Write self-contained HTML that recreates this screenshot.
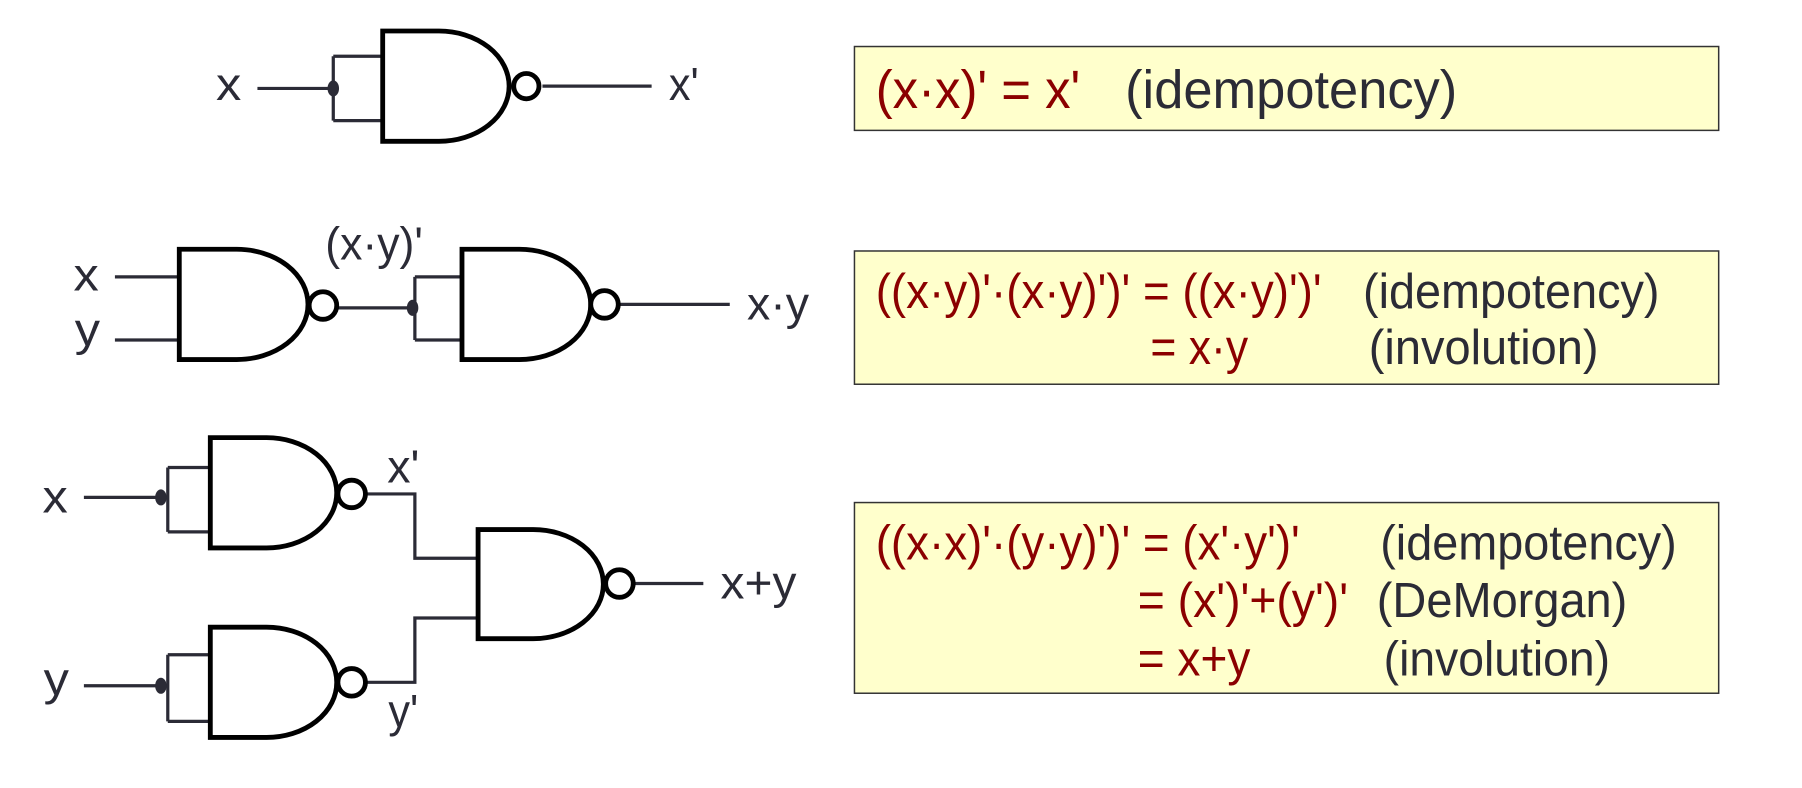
<!DOCTYPE html>
<html><head><meta charset="utf-8"><style>
html,body{margin:0;padding:0;background:#fff;width:1802px;height:788px;overflow:hidden}
svg{display:block}
text{font-family:"Liberation Sans",Arial,sans-serif}
.g{fill:#fff;stroke:#000;stroke-width:4.2}
.w{fill:none;stroke:#2b2b36;stroke-width:2.8}
.lbl{fill:#2b2b36;font-size:40px}
.r{fill:#8b0000}
.k{fill:#2b2b36}
</style></head><body>
<svg width="1802" height="788" viewBox="0 0 1568 686" preserveAspectRatio="none">
<g>
 <path class="w" d="M224 77 H290 M290 49 V105 M290 49 H333 M290 105 H333 M472 75 H567"/>
 <ellipse cx="290" cy="77" rx="5" ry="7" fill="#2b2b36"/>
 <path class="g" d="M333 27 H382 A61 48 0 0 1 382 123 H333 Z"/>
 <circle class="g" cx="458" cy="75" r="11"/>
 <text class="lbl" x="188" y="87" textLength="22" lengthAdjust="spacingAndGlyphs">x</text>
 <text class="lbl" x="582" y="87" textLength="26" lengthAdjust="spacingAndGlyphs">x'</text>
</g>
<g>
 <path class="w" d="M100 241 H156 M100 296 H156 M292 268 H359 M361 241 V296 M361 241 H402 M361 296 H402 M537 265 H635"/>
 <ellipse cx="359" cy="268" rx="5" ry="7" fill="#2b2b36"/>
 <path class="g" d="M156 217 H206 A62 48 0 0 1 206 313 H156 Z"/>
 <circle class="g" cx="281" cy="266" r="12"/>
 <path class="g" d="M402 217 H452 A62 48 0 0 1 452 313 H402 Z"/>
 <circle class="g" cx="526" cy="265" r="12"/>
 <text class="lbl" x="64" y="253" textLength="22" lengthAdjust="spacingAndGlyphs">x</text>
 <text class="lbl" x="65" y="301" textLength="22" lengthAdjust="spacingAndGlyphs">y</text>
 <text class="lbl" x="283" y="226" textLength="85" lengthAdjust="spacingAndGlyphs">(x·y)'</text>
 <text class="lbl" x="650" y="278" textLength="54" lengthAdjust="spacingAndGlyphs">x·y</text>
</g>
<g>
 <path class="w" d="M73 433 H140 M146 407 V463 M146 407 H183 M146 463 H183 M73 597 H140 M146 570 V628 M146 570 H183 M146 628 H183 M318 430 H361 V486 H416 M318 594 H361 V538 H416 M552 508 H612"/>
 <ellipse cx="140" cy="433" rx="5" ry="7" fill="#2b2b36"/>
 <ellipse cx="140" cy="597" rx="5" ry="7" fill="#2b2b36"/>
 <path class="g" d="M183 381 H232 A61 48 0 0 1 232 477 H183 Z"/>
 <circle class="g" cx="306" cy="430" r="12"/>
 <path class="g" d="M183 546 H232 A61 48 0 0 1 232 642 H183 Z"/>
 <circle class="g" cx="306" cy="594" r="12"/>
 <path class="g" d="M416 461 H464 A61 47.5 0 0 1 464 556 H416 Z"/>
 <circle class="g" cx="539" cy="508" r="12"/>
 <text class="lbl" x="37" y="446" textLength="22" lengthAdjust="spacingAndGlyphs">x</text>
 <text class="lbl" x="38" y="605" textLength="22" lengthAdjust="spacingAndGlyphs">y</text>
 <text class="lbl" x="337" y="420" textLength="28" lengthAdjust="spacingAndGlyphs">x'</text>
 <text class="lbl" x="338" y="633" textLength="26" lengthAdjust="spacingAndGlyphs">y'</text>
 <text class="lbl" x="627" y="521" textLength="66" lengthAdjust="spacingAndGlyphs">x+y</text>
</g>
<g>
 <rect x="743.5" y="40.5" width="752" height="73" fill="#ffffcc" stroke="#333" stroke-width="1.3"/>
 <text class="r" x="762" y="94" font-size="47" textLength="178" lengthAdjust="spacingAndGlyphs">(x·x)' = x'</text>
 <text class="k" x="979" y="94" font-size="47" textLength="289" lengthAdjust="spacingAndGlyphs">(idempotency)</text>
</g>
<g>
 <rect x="743.5" y="218.5" width="752" height="116" fill="#ffffcc" stroke="#333" stroke-width="1.3"/>
 <text class="r" x="762" y="268" font-size="43" textLength="388" lengthAdjust="spacingAndGlyphs">((x·y)'·(x·y)')' = ((x·y)')'</text>
 <text class="k" x="1186" y="268" font-size="43" textLength="258" lengthAdjust="spacingAndGlyphs">(idempotency)</text>
 <text class="r" x="1001" y="317" font-size="43" textLength="85" lengthAdjust="spacingAndGlyphs">= x·y</text>
 <text class="k" x="1191" y="317" font-size="43" textLength="200" lengthAdjust="spacingAndGlyphs">(involution)</text>
</g>
<g>
 <rect x="743.5" y="437.5" width="752" height="166" fill="#ffffcc" stroke="#333" stroke-width="1.3"/>
 <text class="r" x="762" y="487" font-size="43" textLength="369" lengthAdjust="spacingAndGlyphs">((x·x)'·(y·y)')' = (x'·y')'</text>
 <text class="k" x="1201" y="487" font-size="43" textLength="258" lengthAdjust="spacingAndGlyphs">(idempotency)</text>
 <text class="r" x="990" y="537" font-size="43" textLength="183" lengthAdjust="spacingAndGlyphs">= (x')'+(y')'</text>
 <text class="k" x="1198" y="537" font-size="43" textLength="218" lengthAdjust="spacingAndGlyphs">(DeMorgan)</text>
 <text class="r" x="990" y="588" font-size="43" textLength="98" lengthAdjust="spacingAndGlyphs">= x+y</text>
 <text class="k" x="1204" y="588" font-size="43" textLength="197" lengthAdjust="spacingAndGlyphs">(involution)</text>
</g>
</svg>
</body></html>
